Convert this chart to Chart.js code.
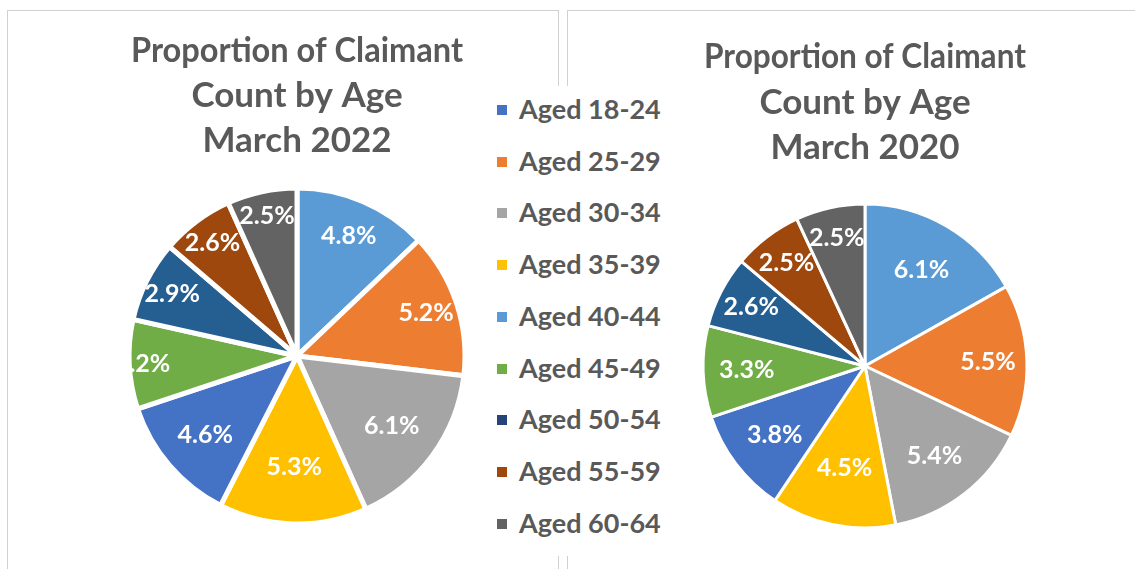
<!DOCTYPE html>
<html>
<head>
<meta charset="utf-8">
<script src="https://cdn.jsdelivr.net/npm/chart.js@4.4.1/dist/chart.umd.min.js"></script>
<style>
  html, body { margin: 0; padding: 0; background: #fff; }
  body { width: 1135px; height: 569px; position: relative; overflow: hidden; font-family: Lato, "Open Sans", sans-serif; }
  .frame { position: absolute; border: 1px solid #d0d0d0; box-sizing: border-box; }
  .box { position: absolute; }
  #legend { position: absolute; left: 488px; top: 86px; width: 182px; height: 470px; background: #fff; }
  #legend .item { position: absolute; left: 9px; height: 30px; line-height: 30px; color: #595959; font-weight: 700; font-size: 27px; white-space: nowrap; }
  #legend .sw { display: inline-block; width: 10px; height: 10px; margin-right: 12px; vertical-align: middle; position: relative; top: -2px; }
</style>
</head>
<body>
<div class="frame" style="left:7px; top:10px; width:552px; height:600px;"></div>
<div class="frame" style="left:567px; top:10px; width:600px; height:600px;"></div>
<div class="box" style="left:8px; top:11px; width:550px; height:558px;"><canvas id="pie2022"></canvas></div>
<div class="box" style="left:568px; top:11px; width:567px; height:558px;"><canvas id="pie2020"></canvas></div>
<div id="legend"></div>
<script>
// legend order, as in the shared key
var ageGroups = ["Aged 18-24", "Aged 25-29", "Aged 30-34", "Aged 35-39", "Aged 40-44",
                 "Aged 45-49", "Aged 50-54", "Aged 55-59", "Aged 60-64"];
var legendColors = ["#4472C4", "#ED7D31", "#A5A5A5", "#FFC000", "#5B9BD5",
                    "#70AD47", "#264478", "#9E480E", "#636363"];

// slice order, clockwise from 12 o'clock
var sliceGroups = ["Aged 40-44", "Aged 25-29", "Aged 30-34", "Aged 35-39", "Aged 18-24",
                   "Aged 45-49", "Aged 50-54", "Aged 55-59", "Aged 60-64"];
var sliceColors = ["#5B9BD5", "#ED7D31", "#A5A5A5", "#FFC000", "#4472C4",
                   "#70AD47", "#255E91", "#9E480E", "#636363"];

var share2022 = [4.8, 5.2, 6.1, 5.3, 4.6, 3.2, 2.9, 2.6, 2.5];
var share2020 = [6.1, 5.5, 5.4, 4.5, 3.8, 3.3, 2.6, 2.5, 2.5];

var titleColor = "#595959";
var fontFamily = "Lato, 'Open Sans', sans-serif";

// white % labels inside the slices, clipped to the pie's box
var sliceLabels = {
  id: "sliceLabels",
  afterDatasetsDraw: function (chart, args, opts) {
    var ctx = chart.ctx;
    var area = chart.chartArea;
    var meta = chart.getDatasetMeta(0);
    var values = chart.data.datasets[0].data;
    ctx.save();
    ctx.beginPath();
    ctx.rect(area.left, area.top, area.right - area.left, area.bottom - area.top);
    ctx.clip();
    ctx.fillStyle = "#fff";
    ctx.font = "700 " + opts.size + "px " + fontFamily;
    ctx.textAlign = "center";
    ctx.textBaseline = "middle";
    meta.data.forEach(function (arc, i) {
      var mid = (arc.startAngle + arc.endAngle) / 2;
      var r = arc.outerRadius * opts.radius[i];
      ctx.fillText(values[i].toFixed(1) + "%", arc.x + Math.cos(mid) * r, arc.y + Math.sin(mid) * r);
    });
    ctx.restore();
  }
};

function makePie(id, values, title, cfg) {
  return new Chart(document.getElementById(id), {
    type: "pie",
    data: {
      labels: sliceGroups,
      datasets: [{
        data: values,
        backgroundColor: sliceColors,
        borderColor: "#fff",
        borderWidth: cfg.border,
        radius: cfg.radius
      }]
    },
    options: {
      responsive: true,
      maintainAspectRatio: false,
      animation: false,
      layout: { padding: cfg.padding },
      plugins: {
        legend: { display: false },
        tooltip: { enabled: false },
        title: {
          display: true,
          text: title,
          color: titleColor,
          font: { family: fontFamily, size: 35, weight: "700", lineHeight: cfg.lineHeight },
          padding: cfg.titlePad
        },
        sliceLabels: { size: 25, radius: cfg.labelRadius }
      }
    },
    plugins: [sliceLabels]
  });
}

makePie("pie2022", share2022, ["Proportion of Claimant", "Count by Age", "March 2022"], {
  border: 5,
  radius: 168,
  padding: { left: 123, right: 95, top: 0, bottom: 47 },
  lineHeight: 1.29,
  titlePad: { top: 17, bottom: 26.5 },
  labelRadius: [0.78, 0.81, 0.70, 0.66, 0.72, 0.92, 0.83, 0.84, 0.85]
});

makePie("pie2020", share2020, ["Proportion of Claimant", "Count by Age", "March 2020"], {
  border: 3,
  radius: 162,
  padding: { left: 136, right: 109, top: 0, bottom: 42 },
  lineHeight: 1.3,
  titlePad: { top: 23, bottom: 34.5 },
  labelRadius: [0.69, 0.76, 0.70, 0.64, 0.70, 0.73, 0.79, 0.80, 0.81]
});

// shared legend in the middle
var legendEl = document.getElementById("legend");
ageGroups.forEach(function (name, i) {
  var item = document.createElement("div");
  item.className = "item";
  item.style.top = (8 + i * 51.7) + "px";
  var sw = document.createElement("span");
  sw.className = "sw";
  sw.style.background = legendColors[i];
  item.appendChild(sw);
  item.appendChild(document.createTextNode(name));
  legendEl.appendChild(item);
});
</script>
</body>
</html>
